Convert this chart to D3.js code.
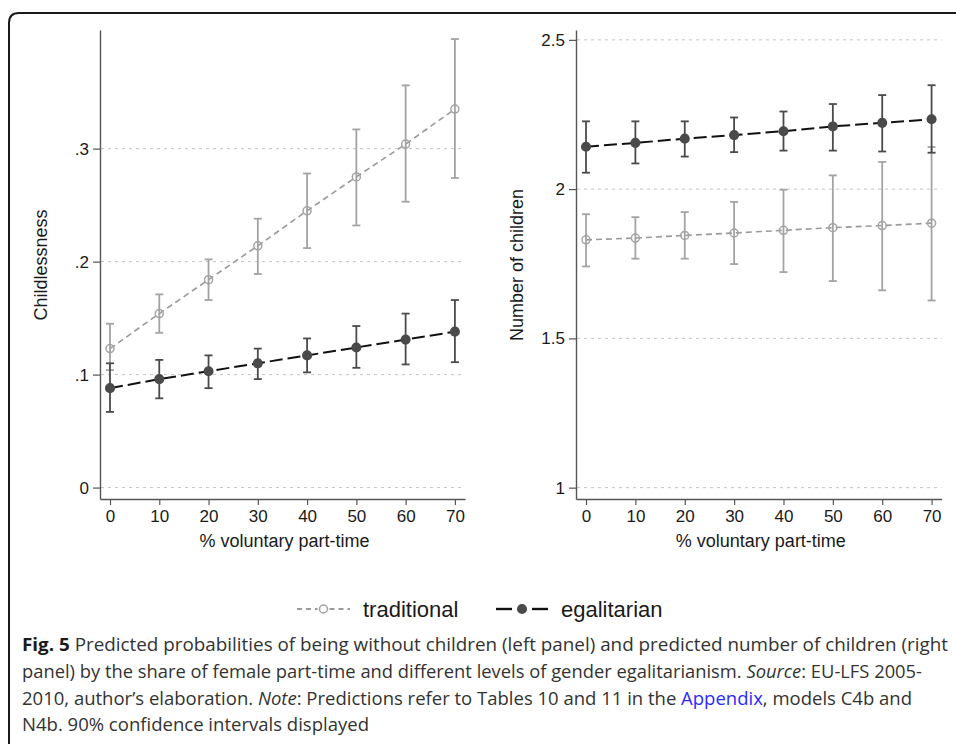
<!DOCTYPE html>
<html>
<head>
<meta charset="utf-8">
<script src="https://cdn.jsdelivr.net/npm/d3@7"></script>
<style>
  body { margin: 0; background: #fff; }
  svg { display: block; }
</style>
</head>
<body>
<script>
var w = 956;
var h = 744;

// data
var xVals = [0, 10, 20, 30, 40, 50, 60, 70];
var xTicks = [0, 10, 20, 30, 40, 50, 60, 70];

var childTrad   = [0.123, 0.154, 0.184, 0.214, 0.245, 0.275, 0.304, 0.335];
var childTradLo = [0.104, 0.137, 0.166, 0.189, 0.212, 0.232, 0.253, 0.274];
var childTradHi = [0.145, 0.171, 0.202, 0.238, 0.278, 0.317, 0.356, 0.397];
var childEgal   = [0.088, 0.096, 0.103, 0.110, 0.117, 0.124, 0.131, 0.138];
var childEgalLo = [0.067, 0.079, 0.088, 0.096, 0.102, 0.106, 0.109, 0.111];
var childEgalHi = [0.110, 0.113, 0.117, 0.123, 0.132, 0.143, 0.154, 0.166];

var kidsTrad   = [1.830, 1.836, 1.845, 1.853, 1.862, 1.871, 1.878, 1.886];
var kidsTradLo = [1.741, 1.767, 1.767, 1.749, 1.722, 1.692, 1.661, 1.627];
var kidsTradHi = [1.916, 1.906, 1.923, 1.957, 1.998, 2.046, 2.091, 2.141];
var kidsEgal   = [2.142, 2.155, 2.169, 2.181, 2.194, 2.210, 2.222, 2.234];
var kidsEgalLo = [2.055, 2.086, 2.109, 2.124, 2.129, 2.129, 2.126, 2.122];
var kidsEgalHi = [2.227, 2.227, 2.227, 2.240, 2.260, 2.285, 2.315, 2.348];

var childTicks = [0, 0.1, 0.2, 0.3];
var childTickLabels = ["0", ".1", ".2", ".3"];
var kidsTicks = [1, 1.5, 2, 2.5];
var kidsTickLabels = ["1", "1.5", "2", "2.5"];

var legendLabels = ["traditional", "egalitarian"];

var svg = d3.select("body")
            .append("svg")
            .attr("width", w)
            .attr("height", h);

// outer frame, runs off the right and bottom edges
svg.append("path")
   .attr("d", "M9," + (h + 5) + " L9,23 Q9,13 19,13 L" + (w + 5) + ",13")
   .attr("fill", "none")
   .attr("stroke", "#1a1a1a")
   .attr("stroke-width", 2);

var tradStyle = { line: "#9a9a9a", mark: "#a3a3a3", dash: "6,4", lw: 1.6, filled: false, r: 4 };
var egalStyle = { line: "#111", mark: "#4a4a4a", dash: "13,5", lw: 2, filled: true, r: 4.3 };

function zip(v, lo, hi) {
    return xVals.map(function(x, i) { return { x: x, y: v[i], lo: lo[i], hi: hi[i] }; });
}

function drawPanel(p) {
    var g = svg.append("g");

    var xScale = d3.scaleLinear()
                   .domain([-2.03, 72.05])
                   .range([p.left, p.right]);

    var yScale = d3.scaleLinear()
                   .domain(p.yDomain)
                   .range([p.bottom, p.top]);

    // dashed gridlines
    g.selectAll("line.grid")
     .data(p.yTicks)
     .enter()
     .append("line")
     .attr("x1", p.left + 1)
     .attr("x2", p.right)
     .attr("y1", function(d) { return yScale(d); })
     .attr("y2", function(d) { return yScale(d); })
     .attr("stroke", "#c4c4c4")
     .attr("stroke-width", 1)
     .attr("stroke-dasharray", "3,4");

    var yAxis = d3.axisLeft(yScale)
                  .tickValues(p.yTicks)
                  .tickFormat(function(d, i) { return p.yLabels[i]; })
                  .tickSize(7)
                  .tickSizeOuter(0)
                  .tickPadding(4);

    var xAxis = d3.axisBottom(xScale)
                  .tickValues(xTicks)
                  .tickSize(6)
                  .tickSizeOuter(0)
                  .tickPadding(5);

    var ya = g.append("g")
              .attr("transform", "translate(" + p.left + ",0)")
              .call(yAxis);
    var xa = g.append("g")
              .attr("transform", "translate(0," + p.bottom + ")")
              .call(xAxis);

    [ya, xa].forEach(function(a) {
        a.select(".domain").attr("stroke", "#555").attr("stroke-width", 1.4);
        a.selectAll(".tick line").attr("stroke", "#555").attr("stroke-width", 1.2);
        a.selectAll(".tick text")
         .attr("fill", "#1a1a1a")
         .attr("font-family", "'Liberation Sans', Arial, sans-serif")
         .attr("font-size", "17px");
    });

    // axis titles
    g.append("text")
     .attr("text-anchor", "middle")
     .attr("x", (p.left + p.right) / 2 + 2)
     .attr("y", 547)
     .attr("font-family", "'Liberation Sans', Arial, sans-serif")
     .attr("font-size", "18px")
     .attr("fill", "#1a1a1a")
     .text("% voluntary part-time");

    g.append("text")
     .attr("text-anchor", "middle")
     .attr("transform", "rotate(-90)")
     .attr("x", -265)
     .attr("y", p.titleX)
     .attr("font-family", "'Liberation Sans', Arial, sans-serif")
     .attr("font-size", "18px")
     .attr("fill", "#1a1a1a")
     .text(p.yTitle);

    p.series.forEach(function(s) {
        var st = s.style;
        var line = d3.line()
                     .x(function(d) { return xScale(d.x); })
                     .y(function(d) { return yScale(d.y); });

        g.append("path")
         .datum(s.data)
         .attr("d", line)
         .attr("fill", "none")
         .attr("stroke", st.line)
         .attr("stroke-width", st.lw)
         .attr("stroke-dasharray", st.dash);

        // confidence bars with caps
        var bars = g.append("g")
                    .attr("stroke", st.mark)
                    .attr("stroke-width", 1.8)
                    .attr("fill", "none");
        bars.selectAll("line.v")
            .data(s.data)
            .enter()
            .append("line")
            .attr("x1", function(d) { return xScale(d.x); })
            .attr("x2", function(d) { return xScale(d.x); })
            .attr("y1", function(d) { return yScale(d.lo); })
            .attr("y2", function(d) { return yScale(d.hi); });
        ["lo", "hi"].forEach(function(k) {
            bars.selectAll("line.c" + k)
                .data(s.data)
                .enter()
                .append("line")
                .attr("x1", function(d) { return xScale(d.x) - 4; })
                .attr("x2", function(d) { return xScale(d.x) + 4; })
                .attr("y1", function(d) { return yScale(d[k]); })
                .attr("y2", function(d) { return yScale(d[k]); });
        });

        g.selectAll("circle.m" + s.name)
         .data(s.data)
         .enter()
         .append("circle")
         .attr("cx", function(d) { return xScale(d.x); })
         .attr("cy", function(d) { return yScale(d.y); })
         .attr("r", st.r)
         .attr("fill", st.filled ? st.mark : "none")
         .attr("stroke", st.mark)
         .attr("stroke-width", 1.5);
    });
}

drawPanel({
    left: 100, right: 465, top: 30, bottom: 499,
    yDomain: [-0.0101, 0.405],
    yTicks: childTicks, yLabels: childTickLabels,
    yTitle: "Childlessness", titleX: 47,
    series: [
        { name: "t", style: tradStyle, data: zip(childTrad, childTradLo, childTradHi) },
        { name: "e", style: egalStyle, data: zip(childEgal, childEgalLo, childEgalHi) }
    ]
});

drawPanel({
    left: 576, right: 941.7, top: 30, bottom: 499,
    yDomain: [0.962, 2.533],
    yTicks: kidsTicks, yLabels: kidsTickLabels,
    yTitle: "Number of children", titleX: 523,
    series: [
        { name: "t", style: tradStyle, data: zip(kidsTrad, kidsTradLo, kidsTradHi) },
        { name: "e", style: egalStyle, data: zip(kidsEgal, kidsEgalLo, kidsEgalHi) }
    ]
});

// legend: a stroke on each side of the marker
var legend = svg.append("g").attr("transform", "translate(0,609)");
var legendItems = [
    { label: legendLabels[0], style: tradStyle, x0: 297, x1: 350, tx: 363, dash: "5,4", gap: 6 },
    { label: legendLabels[1], style: egalStyle, x0: 496, x1: 548, tx: 561, dash: null, gap: 10 }
];
legendItems.forEach(function(it) {
    var cx = (it.x0 + it.x1) / 2;
    [[it.x0, cx - it.gap], [cx + it.gap, it.x1]].forEach(function(seg) {
        legend.append("line")
              .attr("x1", seg[0]).attr("x2", seg[1])
              .attr("y1", 0).attr("y2", 0)
              .attr("stroke", it.style.line)
              .attr("stroke-width", it.style.lw + 0.4)
              .attr("stroke-dasharray", it.dash);
    });
    legend.append("circle")
          .attr("cx", cx)
          .attr("cy", 0)
          .attr("r", it.style.r)
          .attr("fill", it.style.filled ? it.style.mark : "#fff")
          .attr("stroke", it.style.mark)
          .attr("stroke-width", 1.5);
    legend.append("text")
          .attr("x", it.tx)
          .attr("y", 8)
          .attr("font-family", "'Liberation Sans', Arial, sans-serif")
          .attr("font-size", "22px")
          .attr("fill", "#1a1a1a")
          .text(it.label);
});

// caption
var capLines = [
    { y: 651, width: 926, parts: [
        { t: "Fig. 5", bold: true },
        { t: " Predicted probabilities of being without children (left panel) and predicted number of children (right" }] },
    { y: 678, width: 900, parts: [
        { t: "panel) by the share of female part-time and different levels of gender egalitarianism. " },
        { t: "Source", italic: true },
        { t: ": EU-LFS 2005-" }] },
    { y: 705, width: 890, parts: [
        { t: "2010, author\u2019s elaboration. " },
        { t: "Note", italic: true },
        { t: ": Predictions refer to Tables 10 and 11 in the " },
        { t: "Appendix", blue: true },
        { t: ", models C4b and" }] },
    { y: 731, width: 347, parts: [
        { t: "N4b. 90% confidence intervals displayed" }] }
];

capLines.forEach(function(ln) {
    var t = svg.append("text")
               .attr("x", 22)
               .attr("y", ln.y)
               .attr("font-family", "'Open Sans', 'Noto Sans', sans-serif")
               .attr("font-size", "18px")
               .attr("fill", "#333")
               .attr("textLength", ln.width)
               .attr("lengthAdjust", "spacingAndGlyphs")
               .style("white-space", "pre");
    ln.parts.forEach(function(pt) {
        t.append("tspan")
         .attr("font-weight", pt.bold ? "bold" : null)
         .attr("font-style", pt.italic ? "italic" : null)
         .attr("fill", pt.blue ? "#2b2bff" : (pt.bold ? "#1a1a1a" : null))
         .text(pt.t);
    });
});
</script>
</body>
</html>
